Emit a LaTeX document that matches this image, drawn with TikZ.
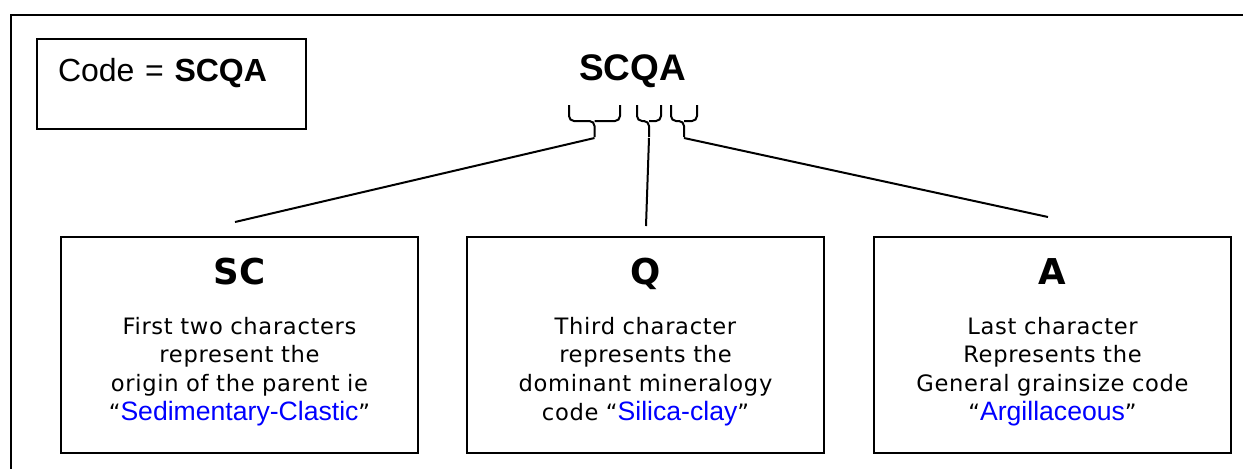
\documentclass[tikz,border=0pt]{standalone}
\usepackage{fontspec}
\setmainfont{DejaVu Sans}
\newfontfamily\arialfont{Liberation Sans}
\newfontfamily\bodyfont[LetterSpace=3]{DejaVu Sans}
\usetikzlibrary{calc}
\definecolor{linkblue}{RGB}{0,0,255}

\newcommand{\parttitle}[1]{{\normalfont\bfseries\fontsize{17.8}{20}\selectfont #1}}
\newcommand{\quoted}[1]{“{\arialfont\fontsize{13.3}{14.3}\selectfont\color{linkblue}#1}”}

\tikzset{
  frame/.style={line width=1.3pt},
  codebox/.style={draw, line width=1pt, anchor=north west, inner xsep=10.5pt, inner ysep=0pt,
    text width=113.5pt, align=left, text height=21pt, text depth=24pt,
    font=\arialfont\fontsize{16}{18}\selectfont},
  partbox/.style={draw, line width=1pt, anchor=north, inner sep=0pt, text width=178.5pt,
    align=center, text height=23.5pt, text depth=84.5pt,
    font=\bodyfont\fontsize{11.3}{14.35}\selectfont},
  codebrace/.style={line width=1pt, rounded corners=2.5pt},
  link/.style={line width=1pt},
}

\begin{document}
\begin{tikzpicture}[x=0.5pt, y=-0.5pt]
    \useasboundingbox (0,0) rectangle (1243,468);
    \clip (0,0) rectangle (1243,468);

    % --- Cadre ---
    \draw[frame] (11,15) rectangle (1270,490);

    % --- Code ---
    \node[codebox] (code) at (36,38) {Code = \textbf{SCQA}};
    \node[font=\arialfont\bfseries\fontsize{18.5}{20}\selectfont, anchor=base] (scqa) at (632.5,80) {SCQA};

    % --- Accolades sous SCQA ---
    \foreach \l/\r/\n in {569/620/bsc, 637/661/bq, 671/697/ba} {
        \draw[codebrace] (\l,105) -- (\l,121) -- ({(\l+\r)/2},121) -- ({(\l+\r)/2},137);
        \draw[codebrace] (\r,105) -- (\r,121) -- ({(\l+\r)/2},121);
        \coordinate (\n) at ({(\l+\r)/2},138);
    }

    % --- Les trois parties ---
    \node[partbox] (sc) at (239.5,236) {\parttitle{SC}\\[10.65pt]
        First two characters\\ represent the\\ origin of the parent ie\\ \quoted{Sedimentary-Clastic}};
    \node[partbox] (q) at (645.5,236) {\parttitle{Q}\\[10.65pt]
        Third character\\ represents the\\ dominant mineralogy\\ code \quoted{Silica-clay}};
    \node[partbox] (a) at (1052.5,236) {\parttitle{A}\\[10.65pt]
        Last character\\ Represents the\\ General grainsize code\\ \quoted{Argillaceous}};

    % --- Liaisons ---
    \draw[link] (bsc) -- ($(sc.north)+(-4.5,-14)$);
    \draw[link] (bq) -- ($(q.north)+(0.5,-10)$);
    \draw[link] (ba) -- ($(a.north)+(-4.5,-19)$);

\end{tikzpicture}
\end{document}
